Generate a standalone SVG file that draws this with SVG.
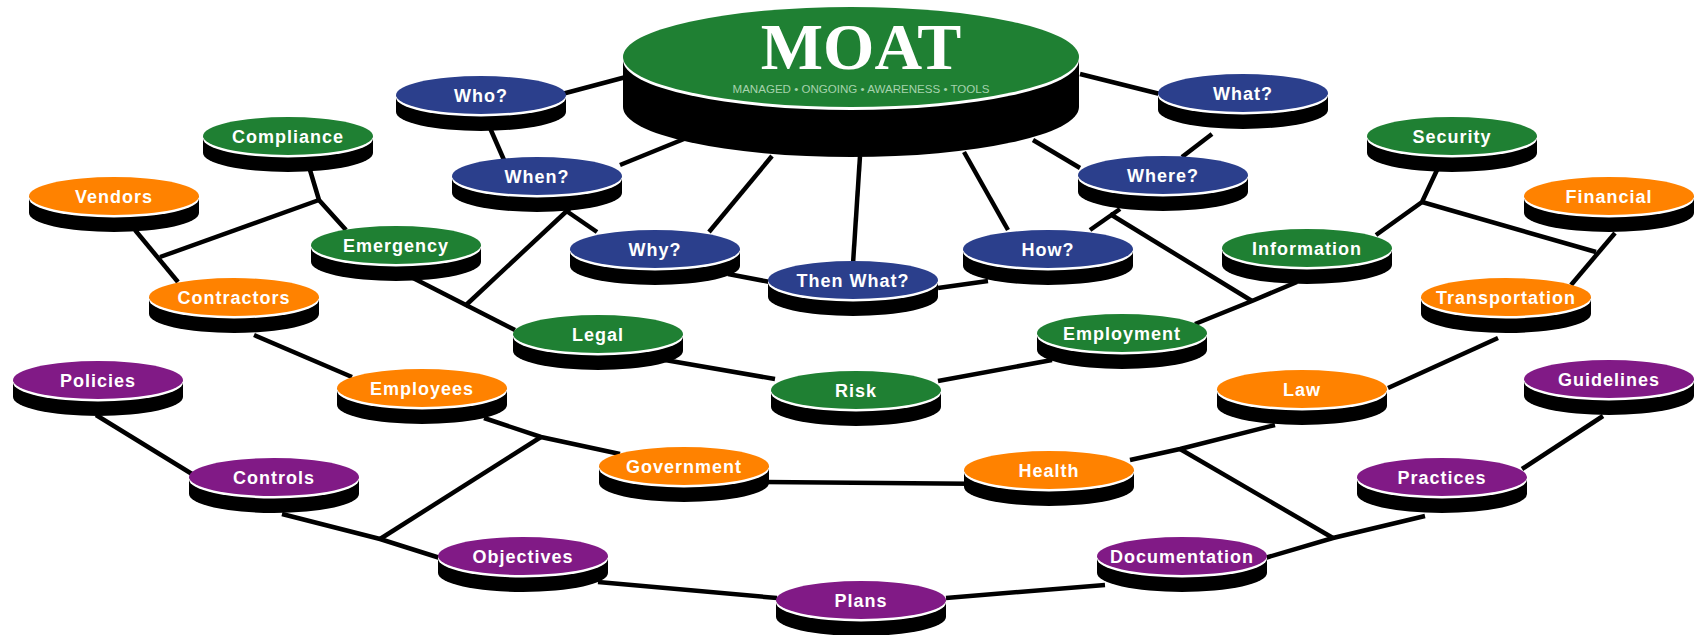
<svg xmlns="http://www.w3.org/2000/svg" xmlns:xlink="http://www.w3.org/1999/xlink" width="1694" height="635" viewBox="0 0 1694 635">
<style>
.conn{stroke:#000;stroke-width:4.5;fill:none;stroke-linecap:butt;stroke-linejoin:miter}
.green{fill:#1f8033}
.blue{fill:#2b3f8c}
.orange{fill:#ff8200}
.purple{fill:#811a86}
.lbl{font-family:"Liberation Sans",Arial,sans-serif;font-weight:bold;font-size:18px;fill:#fff;text-anchor:middle;letter-spacing:1px}
</style>
<defs>
<g id="base">
<path d="M-85,0 V17 A85,19 0 0 0 85,17 V0 Z" fill="#000"/>
<ellipse cx="0" cy="2.5" rx="85" ry="19" fill="#fff"/>
</g>
</defs>
<rect width="1694" height="635" fill="#fff"/>
<g id="connectors">
<line class="conn" x1="562" y1="94" x2="626" y2="77"/>
<line class="conn" x1="1080" y1="74" x2="1160" y2="94"/>
<line class="conn" x1="490" y1="128" x2="504" y2="160"/>
<line class="conn" x1="620" y1="165" x2="684" y2="139"/>
<line class="conn" x1="772" y1="156" x2="709" y2="232"/>
<line class="conn" x1="860" y1="156" x2="853" y2="264"/>
<line class="conn" x1="964" y1="152" x2="1008" y2="230"/>
<line class="conn" x1="1033" y1="140" x2="1080" y2="168"/>
<line class="conn" x1="1212" y1="134" x2="1182" y2="157"/>
<line class="conn" x1="565" y1="210" x2="597" y2="232"/>
<line class="conn" x1="728" y1="274" x2="770" y2="282"/>
<line class="conn" x1="938" y1="288" x2="988" y2="281"/>
<line class="conn" x1="1120" y1="209" x2="1090" y2="230"/>
<line class="conn" x1="570" y1="208" x2="465" y2="306"/>
<line class="conn" x1="413" y1="278" x2="515" y2="330"/>
<polyline class="conn" points="310,170 319,200 346,230"/>
<line class="conn" x1="319" y1="200" x2="160" y2="257"/>
<line class="conn" x1="135" y1="230" x2="178" y2="282"/>
<line class="conn" x1="665" y1="360" x2="775" y2="379"/>
<line class="conn" x1="938" y1="381" x2="1052" y2="360"/>
<line class="conn" x1="1110" y1="214" x2="1252" y2="301"/>
<polyline class="conn" points="1297,282 1252,301 1195,324"/>
<polyline class="conn" points="1437,170 1422,202 1376,235"/>
<line class="conn" x1="1422" y1="202" x2="1596" y2="252"/>
<line class="conn" x1="1615" y1="233" x2="1571" y2="285"/>
<line class="conn" x1="254" y1="335" x2="352" y2="377"/>
<line class="conn" x1="1498" y1="338" x2="1388" y2="388"/>
<line class="conn" x1="96" y1="415" x2="192" y2="474"/>
<polyline class="conn" points="484,418 541,437 620,454"/>
<line class="conn" x1="541" y1="437" x2="380" y2="539"/>
<polyline class="conn" points="282,514 380,539 440,558"/>
<line class="conn" x1="765" y1="482" x2="1000" y2="484"/>
<polyline class="conn" points="1275,425 1180,449 1130,460"/>
<line class="conn" x1="1180" y1="449" x2="1333" y2="538"/>
<polyline class="conn" points="1265,558 1333,538 1425,516"/>
<line class="conn" x1="1603" y1="416" x2="1522" y2="469"/>
<line class="conn" x1="598" y1="582" x2="777" y2="598"/>
<line class="conn" x1="946" y1="598" x2="1105" y2="585"/>
</g>
<g id="moat" transform="translate(851,57)">
<path d="M-228,0 V50 A228,50 0 0 0 228,50 V0 Z" fill="#000"/>
<ellipse cx="0" cy="3" rx="228" ry="50" fill="#fff"/>
<ellipse cx="0" cy="0" rx="228" ry="50" class="green"/>
<text x="10" y="12" font-family="'Liberation Serif','Times New Roman',serif" font-weight="bold" font-size="66" fill="#fff" text-anchor="middle">MOAT</text>
<text x="10" y="36" font-family="'Liberation Sans',Arial,sans-serif" font-size="10" fill="#a6d3ad" text-anchor="middle" textLength="257" lengthAdjust="spacingAndGlyphs">MANAGED • ONGOING • AWARENESS • TOOLS</text>
</g>
<g id="who" transform="translate(481,95)"><use href="#base"/><ellipse rx="85" ry="19" class="blue"/><text class="lbl" y="6.5">Who?</text></g>
<g id="when" transform="translate(537,176)"><use href="#base"/><ellipse rx="85" ry="19" class="blue"/><text class="lbl" y="6.5">When?</text></g>
<g id="why" transform="translate(655,249)"><use href="#base"/><ellipse rx="85" ry="19" class="blue"/><text class="lbl" y="6.5">Why?</text></g>
<g id="thenwhat" transform="translate(853,280)"><use href="#base"/><ellipse rx="85" ry="19" class="blue"/><text class="lbl" y="6.5">Then What?</text></g>
<g id="how" transform="translate(1048,249)"><use href="#base"/><ellipse rx="85" ry="19" class="blue"/><text class="lbl" y="6.5">How?</text></g>
<g id="where" transform="translate(1163,175)"><use href="#base"/><ellipse rx="85" ry="19" class="blue"/><text class="lbl" y="6.5">Where?</text></g>
<g id="what" transform="translate(1243,93)"><use href="#base"/><ellipse rx="85" ry="19" class="blue"/><text class="lbl" y="6.5">What?</text></g>
<g id="compliance" transform="translate(288,136)"><use href="#base"/><ellipse rx="85" ry="19" class="green"/><text class="lbl" y="6.5">Compliance</text></g>
<g id="vendors" transform="translate(114,196)"><use href="#base"/><ellipse rx="85" ry="19" class="orange"/><text class="lbl" y="6.5">Vendors</text></g>
<g id="emergency" transform="translate(396,245)"><use href="#base"/><ellipse rx="85" ry="19" class="green"/><text class="lbl" y="6.5">Emergency</text></g>
<g id="contractors" transform="translate(234,297)"><use href="#base"/><ellipse rx="85" ry="19" class="orange"/><text class="lbl" y="6.5">Contractors</text></g>
<g id="legal" transform="translate(598,334)"><use href="#base"/><ellipse rx="85" ry="19" class="green"/><text class="lbl" y="6.5">Legal</text></g>
<g id="risk" transform="translate(856,390)"><use href="#base"/><ellipse rx="85" ry="19" class="green"/><text class="lbl" y="6.5">Risk</text></g>
<g id="employment" transform="translate(1122,333)"><use href="#base"/><ellipse rx="85" ry="19" class="green"/><text class="lbl" y="6.5">Employment</text></g>
<g id="information" transform="translate(1307,248)"><use href="#base"/><ellipse rx="85" ry="19" class="green"/><text class="lbl" y="6.5">Information</text></g>
<g id="security" transform="translate(1452,136)"><use href="#base"/><ellipse rx="85" ry="19" class="green"/><text class="lbl" y="6.5">Security</text></g>
<g id="financial" transform="translate(1609,196)"><use href="#base"/><ellipse rx="85" ry="19" class="orange"/><text class="lbl" y="6.5">Financial</text></g>
<g id="transportation" transform="translate(1506,297)"><use href="#base"/><ellipse rx="85" ry="19" class="orange"/><text class="lbl" y="6.5">Transportation</text></g>
<g id="employees" transform="translate(422,388)"><use href="#base"/><ellipse rx="85" ry="19" class="orange"/><text class="lbl" y="6.5">Employees</text></g>
<g id="law" transform="translate(1302,389)"><use href="#base"/><ellipse rx="85" ry="19" class="orange"/><text class="lbl" y="6.5">Law</text></g>
<g id="policies" transform="translate(98,380)"><use href="#base"/><ellipse rx="85" ry="19" class="purple"/><text class="lbl" y="6.5">Policies</text></g>
<g id="guidelines" transform="translate(1609,379)"><use href="#base"/><ellipse rx="85" ry="19" class="purple"/><text class="lbl" y="6.5">Guidelines</text></g>
<g id="controls" transform="translate(274,477)"><use href="#base"/><ellipse rx="85" ry="19" class="purple"/><text class="lbl" y="6.5">Controls</text></g>
<g id="government" transform="translate(684,466)"><use href="#base"/><ellipse rx="85" ry="19" class="orange"/><text class="lbl" y="6.5">Government</text></g>
<g id="health" transform="translate(1049,470)"><use href="#base"/><ellipse rx="85" ry="19" class="orange"/><text class="lbl" y="6.5">Health</text></g>
<g id="practices" transform="translate(1442,477)"><use href="#base"/><ellipse rx="85" ry="19" class="purple"/><text class="lbl" y="6.5">Practices</text></g>
<g id="objectives" transform="translate(523,556)"><use href="#base"/><ellipse rx="85" ry="19" class="purple"/><text class="lbl" y="6.5">Objectives</text></g>
<g id="documentation" transform="translate(1182,556)"><use href="#base"/><ellipse rx="85" ry="19" class="purple"/><text class="lbl" y="6.5">Documentation</text></g>
<g id="plans" transform="translate(861,600)"><use href="#base"/><ellipse rx="85" ry="19" class="purple"/><text class="lbl" y="6.5">Plans</text></g>
</svg>
